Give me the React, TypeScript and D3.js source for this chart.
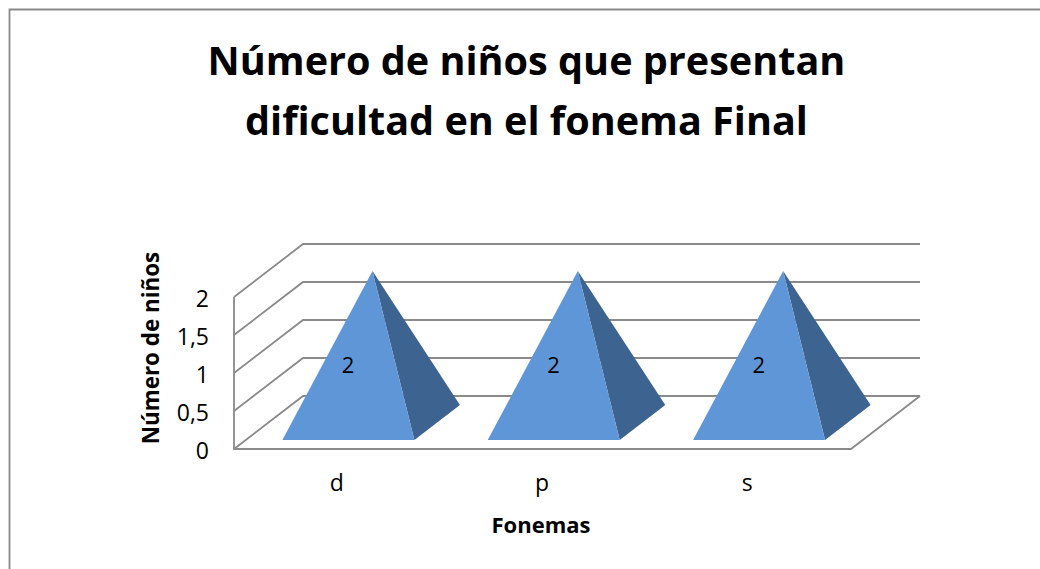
import { useEffect, useRef } from "react";
import * as d3 from "d3";

const categories = ["d", "p", "s"];
const values = [2, 2, 2];
const yTicks = [0, 0.5, 1, 1.5, 2];
const titleLines = ["Número de niños que presentan", "dificultad en el fonema Final"];
const yLabel = "Número de niños";
const xLabel = "Fonemas";

const FONT = "'Open Sans', 'Noto Sans', sans-serif";
const GRID = "#8a8a8a";

// depth offset of the 3d box
const DX = 69;
const DY = -53;

const App = () => {
  const svgRef = useRef<SVGSVGElement>(null);

  useEffect(() => {
    const svg = d3.select(svgRef.current);
    svg.selectAll("*").remove();

    const xScale = d3.scaleBand().domain(categories).range([234, 850]);
    const yScale = d3.scaleLinear().domain([0, 2]).range([449, 297]);
    const project = (x: number, y: number, depth: number): [number, number] => [
      x + DX * depth,
      yScale(y) + DY * depth,
    ];
    const line = d3.line();

    // chart frame
    svg
      .append("path")
      .attr("d", "M9.5,569V9.5H1040")
      .attr("fill", "none")
      .attr("stroke", "#8a8a8a")
      .attr("stroke-width", 1.8);

    // title
    svg
      .append("g")
      .selectAll("text")
      .data(titleLines)
      .join("text")
      .attr("x", 526.5)
      .attr("y", (d, i) => 75 + i * 60)
      .attr("text-anchor", "middle")
      .attr("font-size", 39.6)
      .attr("font-weight", 700)
      .text((d) => d);

    // walls and floor
    const grid = svg.append("g").attr("fill", "none").attr("stroke", GRID).attr("stroke-width", 1.8);
    yTicks.forEach((t) => {
      grid
        .append("path")
        .attr("d", line([project(234, t, 0), project(234, t, 1), project(851, t, 1)]));
    });
    grid
      .append("path")
      .attr(
        "d",
        line([
          project(234, 2, 0),
          project(234, 0, 0),
          project(851, 0, 0),
          project(851, 0, 1),
        ])
      );

    // pyramids
    const band = 132;
    const front = 0.17;
    const back = 0.83;
    const pyramids = svg
      .append("g")
      .selectAll("g")
      .data(categories)
      .join("g");
    pyramids.each(function (c, i) {
      const cx = xScale(c) + xScale.bandwidth() / 2;
      const g = d3.select(this);
      const apex = project(cx + 2, values[i], 0.49);
      const fl = project(cx - band / 2, 0, front);
      const fr = project(cx + band / 2, 0, front);
      const br = project(cx + band / 2, 0, back);
      g.append("path")
        .attr("d", line([apex, fr, br]) + "Z")
        .attr("fill", "#3d6390");
      g.append("path")
        .attr("d", line([apex, fl, fr]) + "Z")
        .attr("fill", "#5f96d8");
      g.append("text")
        .attr("x", cx + 11.5)
        .attr("y", yScale(values[i] / 2) - 8)
        .attr("dy", "0.35em")
        .attr("text-anchor", "middle")
        .attr("font-size", 22)
        .text(values[i]);
    });

    // axes, lines are drawn by the box above
    const yAxis = d3
      .axisLeft(yScale)
      .tickValues(yTicks)
      .tickSize(0)
      .tickPadding(0)
      .tickFormat((d) => String(d).replace(".", ","));
    const yG = svg.append("g").attr("transform", "translate(209,2)").call(yAxis);
    yG.select(".domain").remove();
    yG.selectAll("text").attr("font-size", 23).attr("font-family", FONT).attr("fill", "#000");

    const xAxis = d3.axisBottom(xScale).tickSize(0).tickPadding(0);
    const xG = svg.append("g").attr("transform", "translate(0,475)").call(xAxis);
    xG.select(".domain").remove();
    xG.selectAll("text").attr("font-size", 23).attr("font-family", FONT).attr("fill", "#000");

    // axis titles
    svg
      .append("text")
      .attr("transform", "translate(159,348) rotate(-90)")
      .attr("text-anchor", "middle")
      .attr("font-size", 22.4)
      .attr("font-weight", 700)
      .text(yLabel);
    svg
      .append("text")
      .attr("x", 541)
      .attr("y", 533)
      .attr("text-anchor", "middle")
      .attr("font-size", 22)
      .attr("font-weight", 700)
      .text(xLabel);
  }, []);

  return (
    <svg
      ref={svgRef}
      width={1040}
      height={569}
      style={{ position: "absolute", top: 0, left: 0, background: "#fff", fontFamily: FONT }}
    ></svg>
  );
};

export default App;
